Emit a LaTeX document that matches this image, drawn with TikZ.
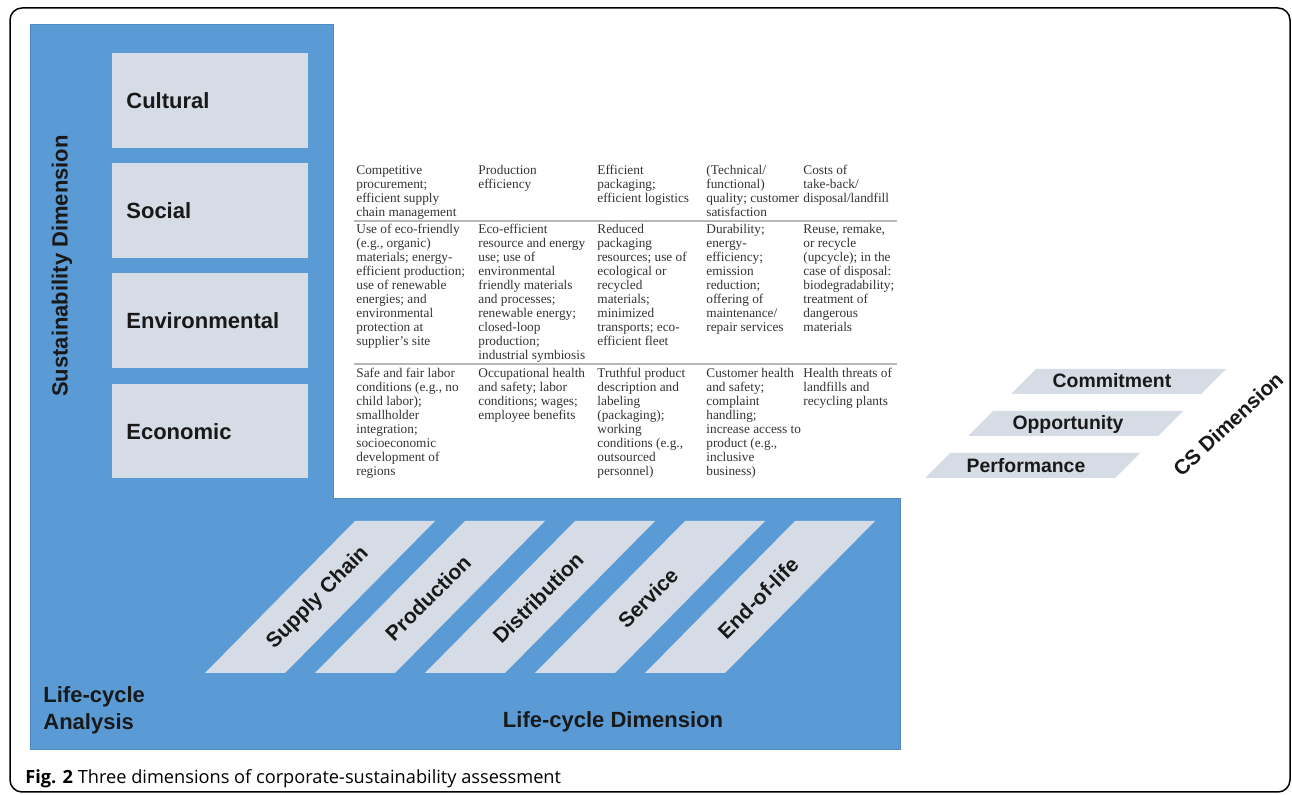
\documentclass[tikz,border=0pt]{standalone}
\usepackage{fontspec}
\setmainfont{Liberation Serif}
\setsansfont{Liberation Sans}
\newfontfamily\capfont{Open Sans}
\definecolor{lcblue}{HTML}{5B9BD5}
\definecolor{lcedge}{HTML}{4F89C2}
\definecolor{boxgray}{HTML}{D6DCE5}
\definecolor{tabtext}{HTML}{333333}
\definecolor{sepline}{HTML}{B8B8B8}
\begin{document}
\begin{tikzpicture}[x=0.5pt,y=-0.5pt,
  dimlabel/.style={font=\sffamily\bfseries\fontsize{11}{13.5}\selectfont, text=black!90, inner sep=0},
  lclabel/.style={font=\sffamily\bfseries\fontsize{10.5}{12}\selectfont, text=black!90, inner sep=0},
  cslabel/.style={font=\sffamily\bfseries\fontsize{9.7}{11}\selectfont, text=black!90, inner sep=0},
  cell/.style={font=\rmfamily\fontsize{6.65}{7}\selectfont, text=tabtext, align=left, anchor=north west, inner sep=0},
  sepstyle/.style={draw=sepline, line width=0.6pt},
  graybox/.style={fill=boxgray}
]
\useasboundingbox (0,0) rectangle (1292,795);
% outer frame
\draw[line width=0.75pt, rounded corners=6pt] (10,8) rectangle (1290,792);
% blue L shape
\fill[lcblue, draw=lcedge, line width=0.5pt] (30,25) -- (333,25) -- (333,499) -- (900,499) -- (900,750) -- (30,750) -- cycle;
% sustainability boxes
\fill[graybox] (112,53) rectangle (308,148);
\fill[graybox] (112,163) rectangle (308,258);
\fill[graybox] (112,273) rectangle (308,368);
\fill[graybox] (112,384) rectangle (308,478);
\node[dimlabel, anchor=west] (cult) at (126,101) {Cultural};
\node[dimlabel, anchor=west] (soc) at (126,211) {Social};
\node[dimlabel, anchor=west] (env) at (126,321) {Environmental};
\node[dimlabel, anchor=west] (eco) at (126,432) {Economic};
\node[dimlabel, rotate=90] (sustdim) at (62,266) {Sustainability Dimension};
% life-cycle shapes
\foreach \i/\t in {0/Supply Chain,1/Production,2/Distribution,3/Service,4/End-of-life}{
  \fill[graybox] ({205+110*\i},673) -- ({285+110*\i},673) -- ({435+110*\i},521) -- ({355+110*\i},521) -- cycle;
  \node[lclabel, rotate=45] (lc\i) at ({318+110*\i},598) {\t};
}
\node[dimlabel, anchor=west, align=left] (lca) at (43,710) {Life-cycle\\Analysis};
\node[dimlabel] (lcdim) at (613,722) {Life-cycle Dimension};
% CS dimension
\fill[graybox] (925,478) -- (1115,478) -- (1140,453) -- (950,453) -- cycle;
\fill[graybox] (968,436) -- (1158,436) -- (1183,411) -- (993,411) -- cycle;
\fill[graybox] (1011,394) -- (1201,394) -- (1226,369) -- (1036,369) -- cycle;
\node[cslabel] (perf) at (1026,466) {Performance};
\node[cslabel] (opp) at (1068,424) {Opportunity};
\node[cslabel] (comm) at (1112,381) {Commitment};
\node[cslabel, font=\sffamily\bfseries\fontsize{10.4}{12}\selectfont, rotate=43] (csdim) at (1228,424) {CS Dimension};
% table separators
\coordinate (s1a) at (354,221); \coordinate (s1b) at (897,221);
\coordinate (s2a) at (354,364); \coordinate (s2b) at (897,364);
\draw[sepstyle] (s1a) -- (s1b);
\draw[sepstyle] (s2a) -- (s2b);
% table cells row 1
\node[cell] (r1c1) at (356,164) {\strut Competitive\\procurement;\\efficient supply\\chain management};
\node[cell] (r1c2) at (478,164) {\strut Production\\efficiency};
\node[cell] (r1c3) at (597,164) {\strut Efficient\\packaging;\\efficient logistics};
\node[cell] (r1c4) at (706,164) {\strut (Technical/\\functional)\\quality; customer\\satisfaction};
\node[cell] (r1c5) at (803,164) {\strut Costs of\\take-back/\\disposal/landfill};
% row 2
\node[cell] (r2c1) at (356,223) {\strut Use of eco-friendly\\(e.g., organic)\\materials; energy-\\efficient production;\\use of renewable\\energies; and\\environmental\\protection at\\supplier's site};
\node[cell] (r2c2) at (478,223) {\strut Eco-efficient\\resource and energy\\use; use of\\environmental\\friendly materials\\and processes;\\renewable energy;\\closed-loop\\production;\\industrial symbiosis};
\node[cell] (r2c3) at (597,223) {\strut Reduced\\packaging\\resources; use of\\ecological or\\recycled\\materials;\\minimized\\transports; eco-\\efficient fleet};
\node[cell] (r2c4) at (706,223) {\strut Durability;\\energy-\\efficiency;\\emission\\reduction;\\offering of\\maintenance/\\repair services};
\node[cell] (r2c5) at (803,223) {\strut Reuse, remake,\\or recycle\\(upcycle); in the\\case of disposal:\\biodegradability;\\treatment of\\dangerous\\materials};
% row 3
\node[cell] (r3c1) at (356,367) {\strut Safe and fair labor\\conditions (e.g., no\\child labor);\\smallholder\\integration;\\socioeconomic\\development of\\regions};
\node[cell] (r3c2) at (478,367) {\strut Occupational health\\and safety; labor\\conditions; wages;\\employee benefits};
\node[cell] (r3c3) at (597,367) {\strut Truthful product\\description and\\labeling\\(packaging);\\working\\conditions (e.g.,\\outsourced\\personnel)};
\node[cell] (r3c4) at (706,367) {\strut Customer health\\and safety;\\complaint\\handling;\\increase access to\\product (e.g.,\\inclusive\\business)};
\node[cell] (r3c5) at (803,367) {\strut Health threats of\\landfills and\\recycling plants};
% caption
\node[anchor=base west, inner sep=0, font=\capfont\fontsize{9.1}{11}\selectfont] (cap) at (25,784) {\textbf{Fig. 2} Three dimensions of corporate-sustainability assessment};
\end{tikzpicture}
\end{document}
